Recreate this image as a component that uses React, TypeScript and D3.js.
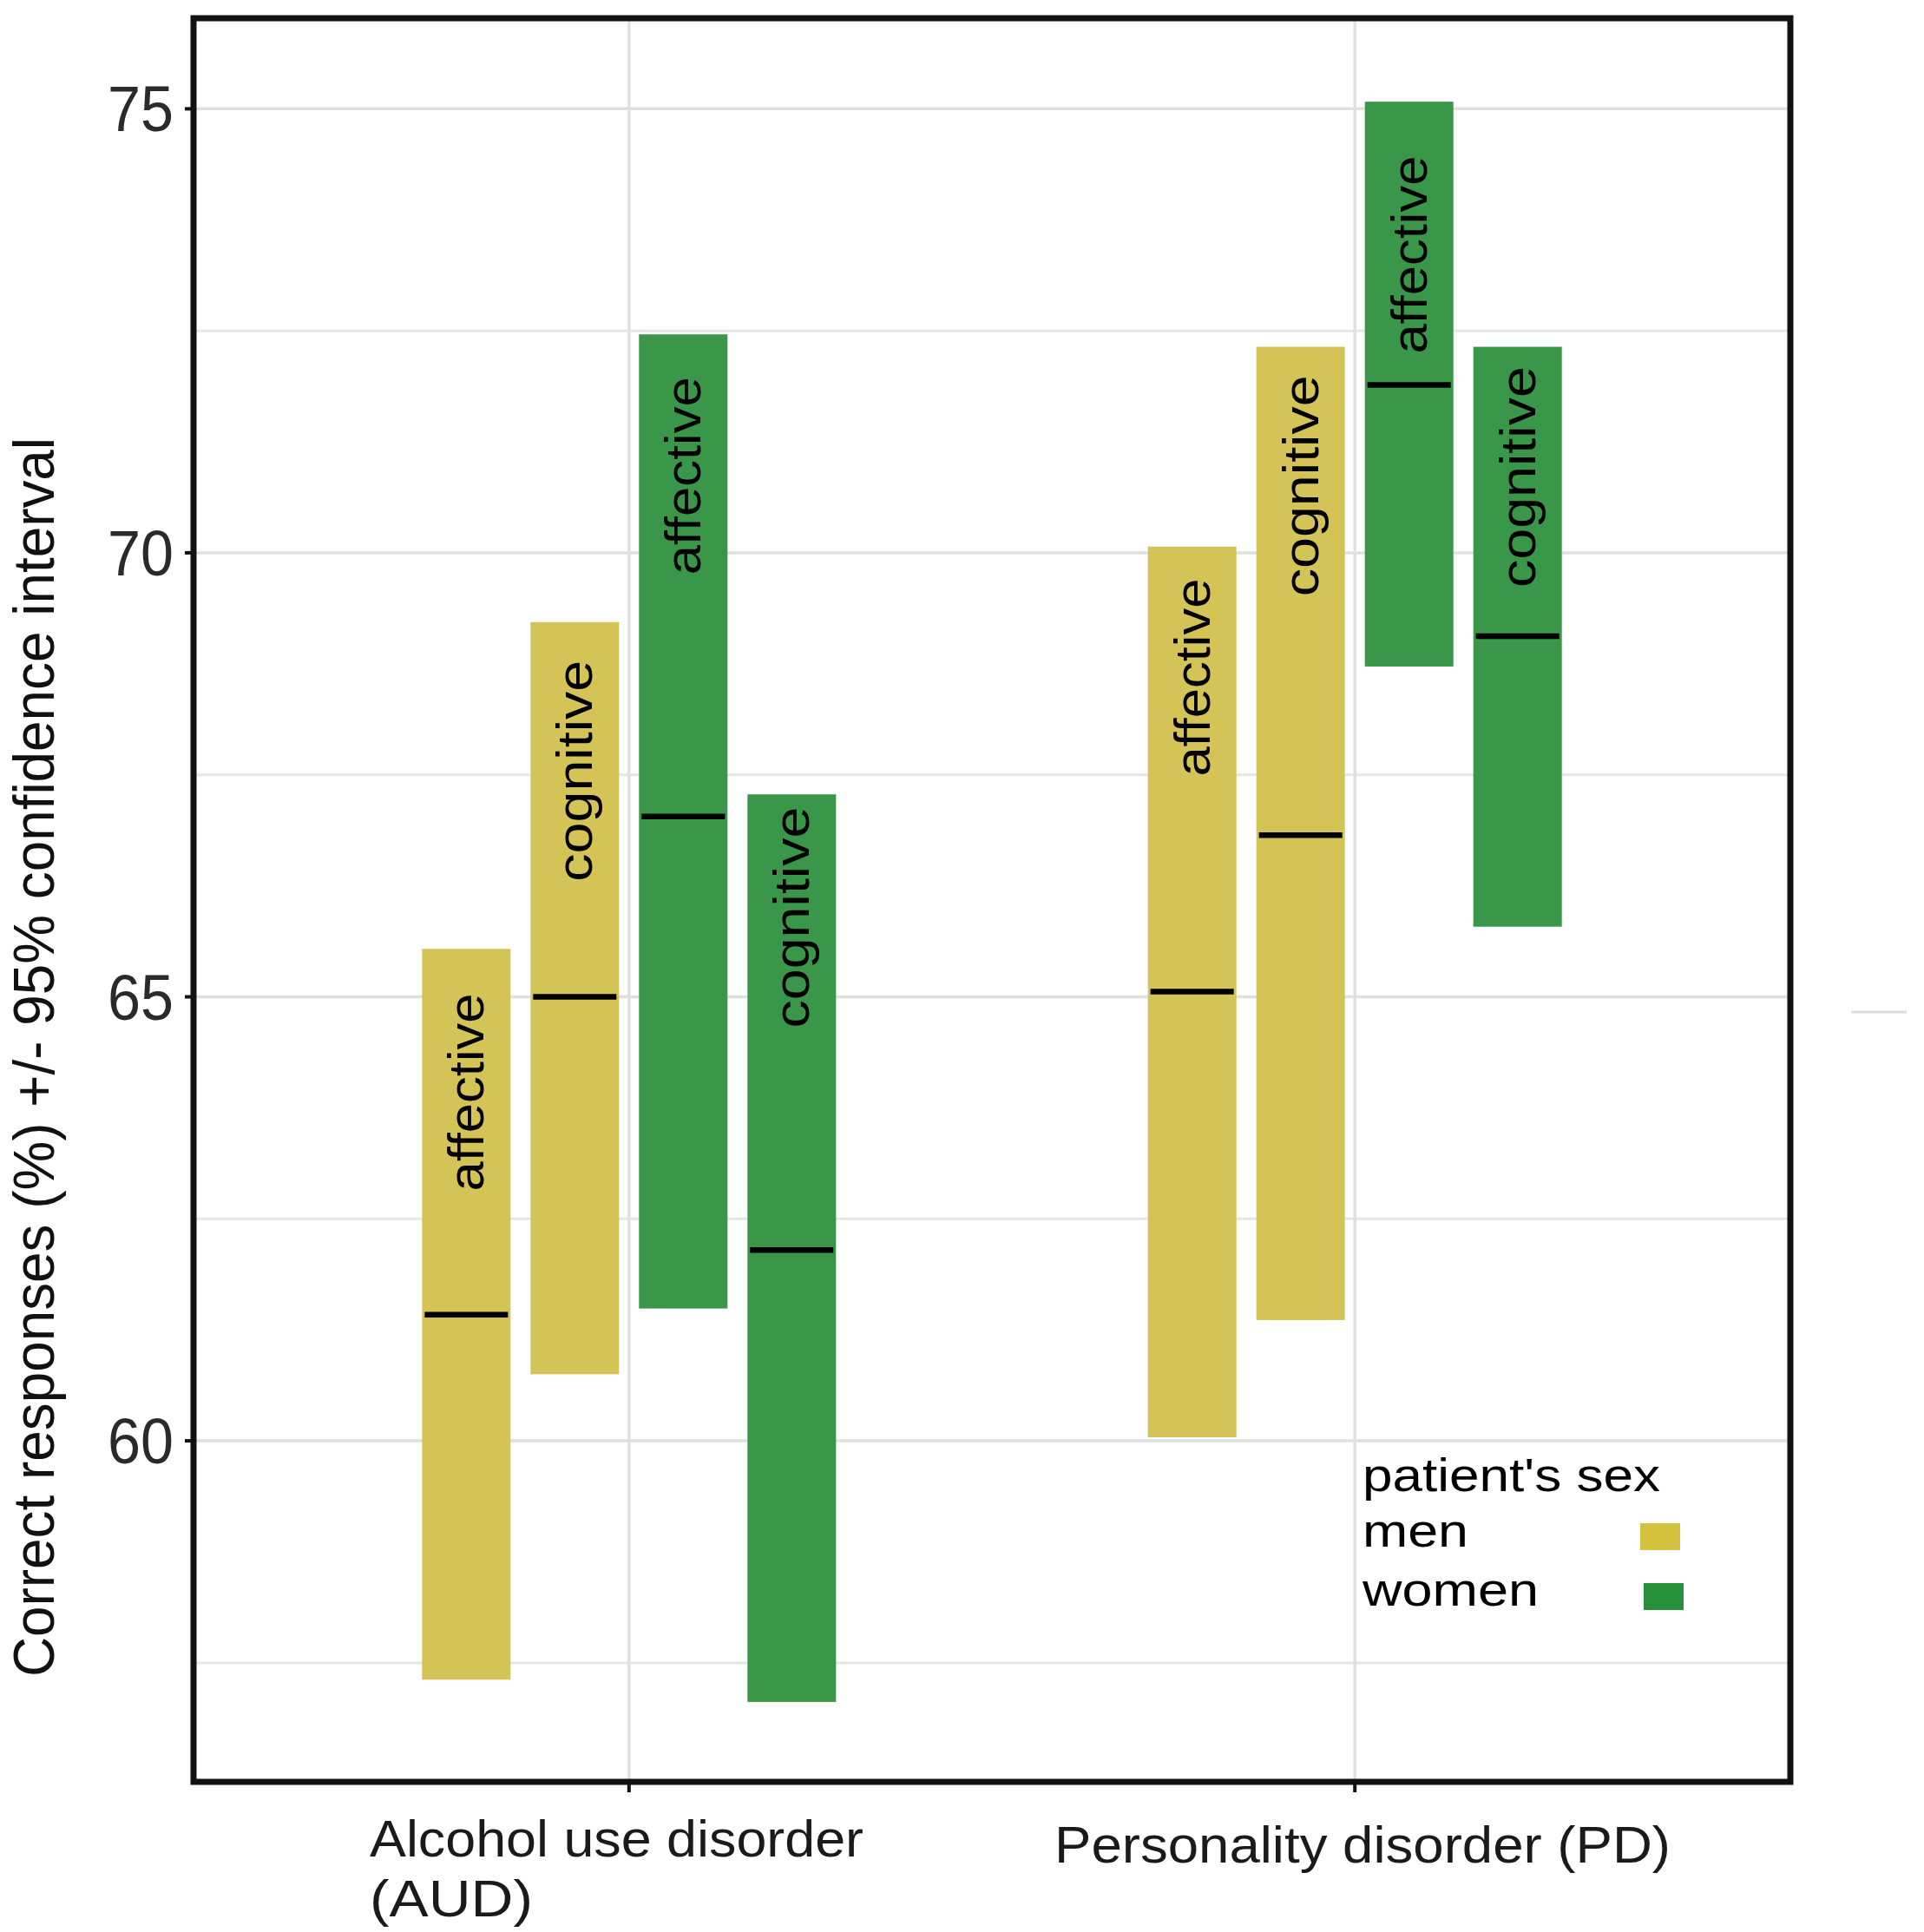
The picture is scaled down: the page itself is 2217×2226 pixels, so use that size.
import React from "react";
import * as d3 from "d3";

// confidence intervals of correct responses (%)
const disorders = ["AUD", "PD"];
const disorderLabels = [["Alcohol use disorder", "(AUD)"], ["Personality disorder (PD)"]];
const sexes = ["men", "men", "women", "women"];
const tasks = ["affective", "cognitive", "affective", "cognitive"];

const audLow = [57.31, 60.75, 61.49, 57.06];
const audMean = [61.42, 65.0, 67.03, 62.15];
const audHigh = [65.54, 69.22, 72.46, 67.28];
const audLabelTop = [65.04, 68.79, 71.98, 67.14];

const pdLow = [60.04, 61.36, 68.72, 65.79];
const pdMean = [65.06, 66.82, 71.89, 69.06];
const pdHigh = [70.07, 72.32, 75.08, 72.32];
const pdLabelTop = [69.71, 72.0, 74.47, 72.1];

const yTicks = [60, 65, 70, 75];
const yMinor = [57.5, 62.5, 67.5, 72.5];
const legendItems = ["men", "women"];

const colors: Record<string, string> = { men: "#d4c357", women: "#3a9649" };
const keyColors: Record<string, string> = { men: "#d5c23e", women: "#27903a" };

const W = 2217;
const H = 2226;
const left = 223;
const right = 2063;
const top = 21;
const bottom = 2053;
const font = "'Liberation Sans', Arial, sans-serif";

interface Row {
  disorder: string;
  idx: number;
  sex: string;
  task: string;
  low: number;
  mean: number;
  high: number;
  labelTop: number;
}

const rows: Row[] = [];
disorders.forEach((d, di) => {
  const low = di === 0 ? audLow : pdLow;
  const mean = di === 0 ? audMean : pdMean;
  const high = di === 0 ? audHigh : pdHigh;
  const lt = di === 0 ? audLabelTop : pdLabelTop;
  sexes.forEach((s, i) => {
    rows.push({ disorder: d, idx: i, sex: s, task: tasks[i], low: low[i], mean: mean[i], high: high[i], labelTop: lt[i] });
  });
});

const labelLen: Record<string, number> = { affective: 228, cognitive: 255 };

export default function App() {
  const y = d3.scaleLinear().domain([56.16, 76.02]).range([bottom, top]);
  const x0 = d3.scalePoint<string>().domain(disorders).range([left, right]).padding(0.6);
  const x1 = d3
    .scaleBand<number>()
    .domain(d3.range(4))
    .range([-250, 250])
    .paddingInner(0.184)
    .paddingOuter(0.092);
  const bw = x1.bandwidth();

  return (
    <svg
      width={W}
      height={H}
      viewBox={`0 0 ${W} ${H}`}
      style={{ position: "absolute", left: 0, top: 0, background: "#fff" }}
    >
      <rect x={0} y={0} width={W} height={H} fill="#fff" />

      {/* grid */}
      {yMinor.map((t) => (
        <line key={"mi" + t} x1={left} x2={right} y1={y(t)} y2={y(t)} stroke="#e6e6e6" strokeWidth={3} />
      ))}
      {yTicks.map((t) => (
        <line key={"ma" + t} x1={left} x2={right} y1={y(t)} y2={y(t)} stroke="#e0e0e0" strokeWidth={3.5} />
      ))}
      {disorders.map((d) => (
        <line key={"v" + d} x1={x0(d)} x2={x0(d)} y1={top} y2={bottom} stroke="#e0e0e0" strokeWidth={3.5} />
      ))}

      {/* interval bars */}
      {rows.map((r) => {
        const bx = (x0(r.disorder) as number) + (x1(r.idx) as number);
        const cx = bx + bw / 2;
        const ly = y(r.labelTop);
        return (
          <g key={r.disorder + r.idx}>
            <rect x={bx} y={y(r.high)} width={bw} height={y(r.low) - y(r.high)} fill={colors[r.sex]} />
            <line x1={bx + 3} x2={bx + bw - 3} y1={y(r.mean)} y2={y(r.mean)} stroke="#000" strokeWidth={6.5} />
            <text
              transform={`translate(${cx + 20},${ly}) rotate(-90)`}
              textAnchor="end"
              fontFamily={font}
              fontSize={58}
              fill="#000"
              textLength={labelLen[r.task]}
              lengthAdjust="spacingAndGlyphs"
            >
              {r.task}
            </text>
          </g>
        );
      })}

      {/* panel border */}
      <rect x={left} y={top} width={right - left} height={bottom - top} fill="none" stroke="#111" strokeWidth={7} />

      {/* y axis */}
      {yTicks.map((t) => (
        <g key={"yt" + t}>
          <line x1={left - 10} x2={left} y1={y(t)} y2={y(t)} stroke="#111" strokeWidth={4} />
          <text
            x={200}
            y={y(t) + 26}
            textAnchor="end"
            fontFamily={font}
            fontSize={74}
            fill="#2a2a2a"
            textLength={76}
            lengthAdjust="spacingAndGlyphs"
          >
            {t}
          </text>
        </g>
      ))}
      <text
        transform={`translate(62,1218) rotate(-90)`}
        textAnchor="middle"
        fontFamily={font}
        fontSize={66}
        fill="#111"
        textLength={1428}
        lengthAdjust="spacingAndGlyphs"
      >
        Correct responses (%) +/-  95% confidence interval
      </text>

      {/* x axis */}
      {disorders.map((d, i) => (
        <g key={"xt" + d}>
          <line x1={x0(d)} x2={x0(d)} y1={bottom} y2={bottom + 12} stroke="#111" strokeWidth={4} />
          {disorderLabels[i].map((line, li) => (
            <text
              key={line}
              x={i === 0 ? 426 : 1215}
              y={(i === 0 ? 2139 : 2146) + li * 69}
              fontFamily={font}
              fontSize={60}
              fill="#1a1a1a"
              textLength={line === "(AUD)" ? 188 : i === 0 ? 569 : 710}
              lengthAdjust="spacingAndGlyphs"
            >
              {line}
            </text>
          ))}
        </g>
      ))}

      {/* legend */}
      <text x={1570} y={1718} fontFamily={font} fontSize={54} fill="#000" textLength={343} lengthAdjust="spacingAndGlyphs">
        patient's sex
      </text>
      {legendItems.map((s, i) => (
        <g key={"lg" + s}>
          <text
            x={1570}
            y={1782 + i * 68}
            fontFamily={font}
            fontSize={54}
            fill="#000"
            textLength={s === "men" ? 122 : 203}
            lengthAdjust="spacingAndGlyphs"
          >
            {s}
          </text>
          <rect x={1890 + i * 4} y={1755 + i * 69} width={46} height={31} fill={keyColors[s]} />
        </g>
      ))}

      {/* stray mark at the right edge of the figure */}
      <line x1={2133} x2={2197} y1={1166} y2={1166} stroke="#dcdcdc" strokeWidth={3} />
    </svg>
  );
}
